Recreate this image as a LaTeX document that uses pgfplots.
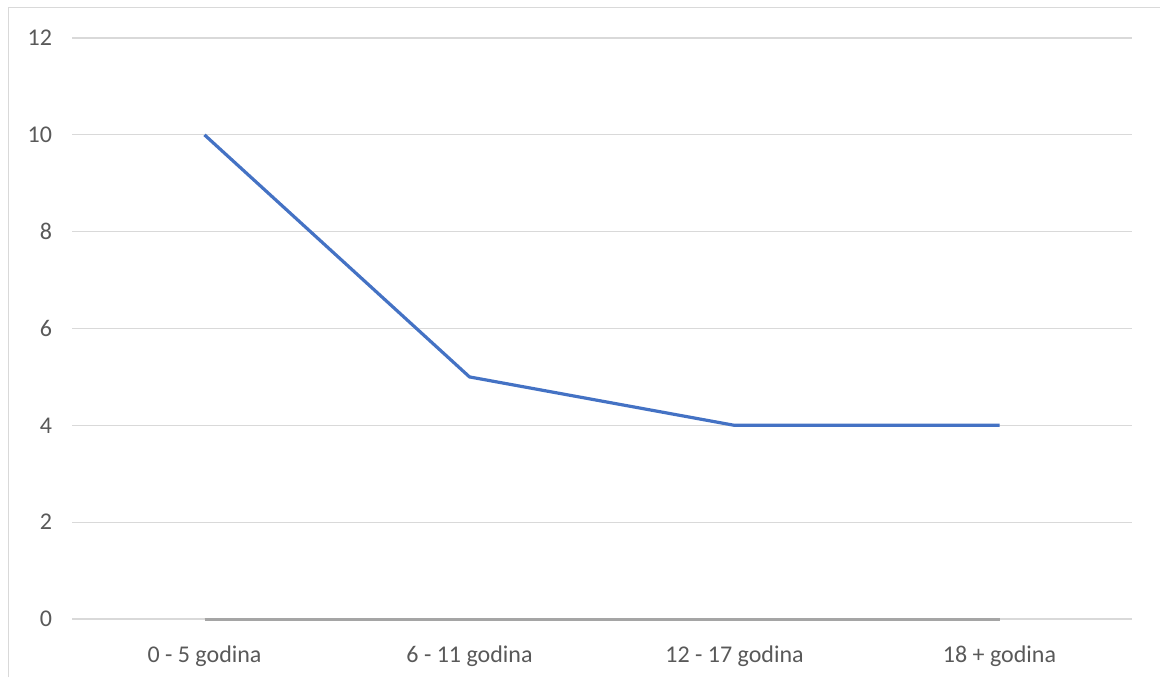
\documentclass[border=0pt]{standalone}
\usepackage{fontspec}
\setmainfont{Carlito}
\usepackage{pgfplots}
\pgfplotsset{compat=1.18}
\definecolor{xblue}{HTML}{4472C4}
\definecolor{xorange}{HTML}{ED7D31}
\definecolor{xgray}{HTML}{A5A5A5}
\definecolor{xgrid}{HTML}{D9D9D9}
\definecolor{xtext}{HTML}{595959}
\begin{document}
\begin{tikzpicture}[x=1pt,y=1pt]
\useasboundingbox (0,0) rectangle (580,338.5);
\draw[xgrid, line width=0.8pt] (4.25,0) -- (4.25,334.75) -- (580,334.75);
\begin{axis}[
  at={(36pt,29pt)}, anchor=south west,
  scale only axis, width=530pt, height=290.5pt,
  xmin=-0.5, xmax=3.5, ymin=0, ymax=12,
  xtick={0,1,2,3},
  xticklabels={0 - 5 godina, 6 - 11 godina, 12 - 17 godina, 18 + godina},
  ytick={0,2,4,6,8,10,12},
  ymajorgrids, major grid style={xgrid, line width=0.6pt},
  axis line style={draw=none},
  major tick length=0pt,
  tick label style={font=\fontsize{12}{14}\selectfont, text=xtext},
  yticklabel style={xshift=-6.5pt},
  xticklabel style={yshift=-10pt},
  /pgf/number format/assume math mode=true,
  clip=false,
]
\addplot[xblue, line width=1.6pt, line join=round] coordinates {(0,10) (1,5) (2,4) (3,4)};
\addplot[xorange, line width=1.5pt] coordinates {(0,0) (1,0) (2,0) (3,0)};
\addplot[xgray, line width=1.4pt, yshift=-0.2pt] coordinates {(0,0) (1,0) (2,0) (3,0)};
\end{axis}
\end{tikzpicture}
\end{document}
